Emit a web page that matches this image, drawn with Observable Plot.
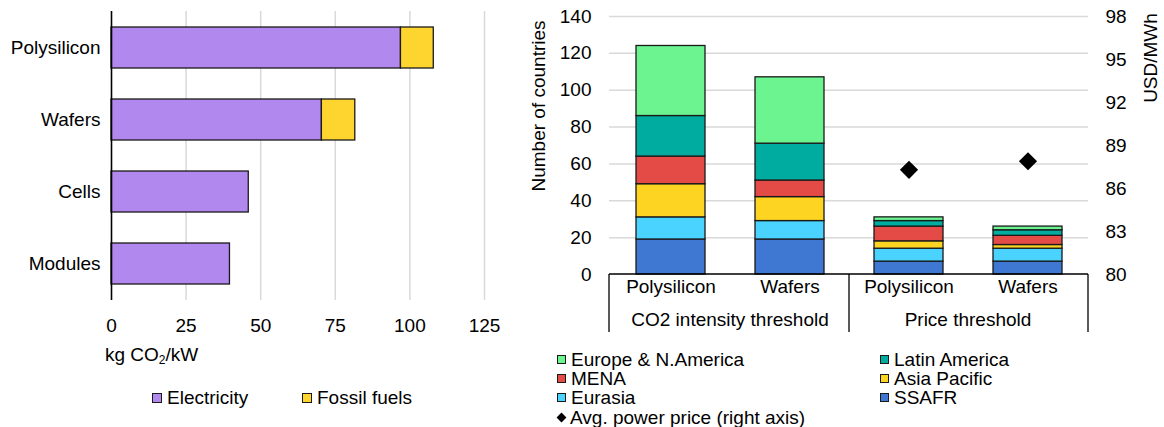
<!DOCTYPE html>
<html><head><meta charset="utf-8">
<script src="https://cdn.jsdelivr.net/npm/d3@7"></script>
<script src="https://cdn.jsdelivr.net/npm/@observablehq/plot@0.6"></script>
<style>
body{margin:0;background:#fff;}
#wrap{position:relative;width:1164px;height:427px;font-family:"Liberation Sans",Arial,sans-serif;font-size:19px;color:#000;overflow:hidden;background:#fff}
.abs{position:absolute;white-space:nowrap;line-height:19px}
.sw{display:inline-block;box-sizing:border-box;border:1px solid #1a1a1a;vertical-align:middle}
.item{position:absolute;white-space:nowrap;line-height:19px;display:flex;align-items:center}
svg{position:absolute;top:0;overflow:visible}
</style></head><body><div id="wrap"></div>
<script>
// ---------- Left chart data ----------
const stages = ["Polysilicon", "Wafers", "Cells", "Modules"];
const electricity = [97, 70.5, 46, 39.7];
const fossilFuels = [11, 11.2, 0, 0];
const sources = ["Electricity", "Fossil fuels"];
const sourceColors = ["#b088ee", "#fed42f"];
const emissionTicks = [0, 25, 50, 75, 100, 125];

// ---------- Right chart data ----------
const groups = ["CO2 intensity threshold", "CO2 intensity threshold", "Price threshold", "Price threshold"];
const products = ["Polysilicon", "Wafers", "Polysilicon", "Wafers"];
const regions = ["SSAFR", "Eurasia", "Asia Pacific", "MENA", "Latin America", "Europe & N.America"];
const regionColors = ["#3e78d2", "#4ad3fe", "#fed422", "#e44a46", "#00aca0", "#6bf48f"];
const ssafr = [19, 19, 7, 7];
const eurasia = [12, 10, 7, 7];
const asiaPacific = [18, 13, 4, 2];
const mena = [15, 9, 8, 5];
const latinAmerica = [22, 20, 3, 3];
const europeNA = [38, 36, 2, 2];
const avgPowerPrice = [null, null, 87.3, 87.9];
const countTicks = [0, 20, 40, 60, 80, 100, 120, 140];
const priceTicks = [80, 83, 86, 89, 92, 95, 98];

const FONT = '"Liberation Sans", Arial, sans-serif';
const wrap = document.getElementById("wrap");

// ---------- Left chart ----------
const leftRows = [];
stages.forEach((s, i) => {
  [electricity[i], fossilFuels[i]].forEach((v, j) => {
    if (v > 0) leftRows.push({stage: s, source: sources[j], value: v});
  });
});

const left = Plot.plot({
  width: 520, height: 340,
  marginLeft: 111, marginRight: 36, marginTop: 11, marginBottom: 40,
  style: {fontFamily: FONT, fontSize: "19px", background: "transparent", color: "#000", overflow: "visible"},
  x: {domain: [0, 125]},
  y: {domain: stages, paddingInner: 0.427, paddingOuter: 0.205},
  color: {domain: sources, range: sourceColors},
  marks: [
    Plot.gridX(emissionTicks.filter(d => d > 0), {stroke: "#d9d9d9", strokeOpacity: 1, strokeWidth: 1.5}),
    Plot.barX(leftRows, {x: "value", y: "stage", fill: "source", stroke: "#1a1a1a", strokeWidth: 1.3}),
    Plot.ruleX([0], {stroke: "#000", strokeWidth: 1.6}),
    Plot.axisX(emissionTicks, {tickSize: 0, tickPadding: 18, label: null}),
    Plot.axisY({tickSize: 0, tickPadding: 11, label: null})
  ]
});
left.style.left = "0px";
wrap.appendChild(left);

// axis label
const xl = document.createElement("div");
xl.className = "abs";
xl.style.left = "105px"; xl.style.top = "345px";
xl.innerHTML = 'kg CO<sub style="font-size:12px;vertical-align:-3px;line-height:0">2</sub>/kW';
wrap.appendChild(xl);

// left legend
const leftLegendX = [152, 302];
sources.forEach((s, i) => {
  const d = document.createElement("div");
  d.className = "item";
  d.style.left = leftLegendX[i] + "px"; d.style.top = "388px";
  d.innerHTML = `<span class="sw" style="width:10px;height:10px;background:${sourceColors[i]};margin-right:5px"></span>${s}`;
  wrap.appendChild(d);
});

// ---------- Right chart ----------
const keys = groups.map((g, i) => g + "|" + products[i]);
const rightRows = [];
const regionValues = [ssafr, eurasia, asiaPacific, mena, latinAmerica, europeNA];
keys.forEach((k, i) => {
  regions.forEach((r, j) => rightRows.push({key: k, region: r, value: regionValues[j][i]}));
});
const priceRows = keys.map((k, i) => ({key: k, price: avgPowerPrice[i]})).filter(d => d.price != null);
const labelRows = keys.map((k, i) => ({key: k, product: products[i]}));
const priceToCount = v => (v - 80) / (98 - 80) * 140;
const countToPrice = c => 80 + c / 140 * (98 - 80);

function groupBox(index, scales, values, dims) {
  const x = scales.x;
  const bw = typeof x.bandwidth === "function" ? x.bandwidth() : x.bandwidth;
  const l = dims.marginLeft, r = dims.width - dims.marginRight;
  const y0 = dims.height - dims.marginBottom;
  const y1 = y0 + 58;
  const g = d3.create("svg:g");
  const names = [...new Set(groups)];
  const edges = [l];
  names.forEach((name, gi) => {
    const ks = keys.filter((k, i) => groups[i] === name);
    const cx = d3.mean(ks, k => x(k) + bw / 2);
    g.append("text").attr("x", cx).attr("y", y0 + 46).attr("dy", "0.32em")
      .attr("text-anchor", "middle").attr("fill", "#000").text(name);
    if (gi < names.length - 1) {
      const nextK = keys.filter((k, i) => groups[i] === names[gi + 1])[0];
      edges.push((x(ks[ks.length - 1]) + bw + x(nextK)) / 2);
    }
  });
  edges.push(r);
  g.append("line").attr("x1", l).attr("x2", r).attr("y1", y0).attr("y2", y0)
    .attr("stroke", "#000").attr("stroke-width", 1.5);
  edges.forEach(e => g.append("line").attr("x1", e).attr("x2", e).attr("y1", y0).attr("y2", y1)
    .attr("stroke", "#000").attr("stroke-width", 1.3));
  return g.node();
}

const right = Plot.plot({
  width: 644, height: 340,
  marginLeft: 89, marginRight: 76, marginTop: 16, marginBottom: 66,
  style: {fontFamily: FONT, fontSize: "19px", background: "transparent", color: "#000", overflow: "visible"},
  x: {domain: keys, paddingInner: 0.424, paddingOuter: 0.212, axis: null},
  y: {domain: [0, 140]},
  color: {domain: regions, range: regionColors},
  marks: [
    Plot.gridY(countTicks.filter(d => d > 0), {stroke: "#d9d9d9", strokeOpacity: 1, strokeWidth: 1.5}),
    Plot.barY(rightRows, {x: "key", y: "value", fill: "region", stroke: "#1a1a1a", strokeWidth: 1.3}),
    Plot.dot(priceRows, {x: "key", y: d => priceToCount(d.price), symbol: "diamond2", r: 8.2, fill: "#000", stroke: null}),
    Plot.axisY(countTicks, {anchor: "left", tickSize: 0, tickPadding: 18, label: null}),
    Plot.axisY(priceTicks.map(priceToCount), {anchor: "right", tickSize: 0, tickPadding: 17, label: null,
      tickFormat: d => Math.round(countToPrice(d))}),
    Plot.text(labelRows, {x: "key", text: "product", frameAnchor: "bottom", dy: 18, fill: "#000"}),
    groupBox
  ]
});
right.style.left = "520px";
wrap.appendChild(right);

// rotated axis titles
function rotLabel(text, cx, cy) {
  const d = document.createElement("div");
  d.className = "abs";
  d.style.left = cx + "px"; d.style.top = cy + "px";
  d.style.transform = "translate(-50%,-50%) rotate(-90deg)";
  d.textContent = text;
  wrap.appendChild(d);
}
rotLabel("Number of countries", 538, 106);
rotLabel("USD/MWh", 1150, 58);

// right legend (rows, two columns)
const legendOrder = regions.slice().reverse();
const colX = [557, 880];
const rowY = [359, 378.3, 397.6, 417];
legendOrder.forEach((name, i) => {
  const d = document.createElement("div");
  d.className = "item";
  d.style.left = colX[i % 2] + "px";
  d.style.top = (rowY[Math.floor(i / 2)] - 9.5) + "px";
  const c = regionColors[regions.indexOf(name)];
  d.innerHTML = `<span class="sw" style="width:9px;height:9px;background:${c};margin-right:5px"></span>${name}`;
  wrap.appendChild(d);
});
const dl = document.createElement("div");
dl.className = "item";
dl.style.left = colX[0] + "px";
dl.style.top = (rowY[3] - 9.5) + "px";
dl.innerHTML = `<span style="display:inline-block;width:7px;height:7px;background:#000;transform:rotate(45deg);margin:0 5px 0 1px"></span>Avg. power price (right axis)`;
wrap.appendChild(dl);
</script></body></html>
